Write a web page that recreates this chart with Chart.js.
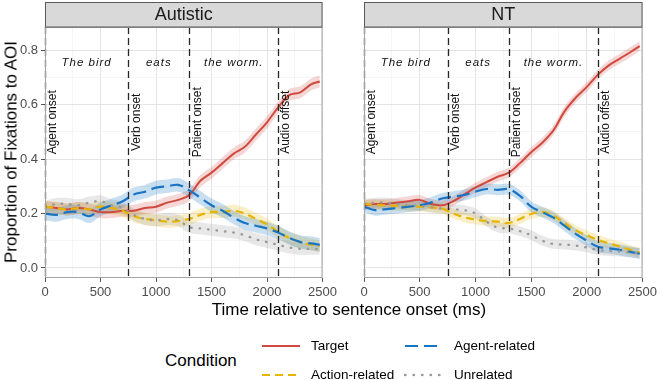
<!DOCTYPE html>
<html><head><meta charset="utf-8">
<script src="https://cdn.jsdelivr.net/npm/chart.js@4.4.1/dist/chart.umd.min.js"></script>
<style>
body{margin:0;background:#fff;font-family:"Liberation Sans",Arial,sans-serif;}
#wrap{position:relative;width:669px;height:380px;overflow:hidden;background:#fff;}
canvas{position:absolute;top:0;}
.t{position:absolute;white-space:nowrap;color:#000;line-height:1;}
</style></head><body><div id="wrap">
<canvas id="c1" width="340" height="300" style="left:0"></canvas>
<canvas id="c2" width="330" height="300" style="left:330px"></canvas>
<div class="t" style="font-size:17px;left:11px;top:152px;transform:translate(-50%,-50%) rotate(-90deg);">Proportion of Fixations to AOI</div>
<div class="t" style="font-size:17px;left:349px;top:309px;transform:translate(-50%,-50%)">Time relative to sentence onset (ms)</div>
<div class="t" style="font-size:17px;left:165px;top:360px;transform:translate(0,-50%)">Condition</div>
<svg id="legsvg" width="669" height="380" style="position:absolute;left:0;top:0"></svg>
<div id="legtext"></div>
</div>
<script>
// ---------------- data ----------------
const times = [0,100,200,300,400,500,600,700,800,900,1000,1100,1200,1300,1400,1500,1600,1700,1800,1900,2000,2100,2200,2300,2400,2475];
const panels = ["Autistic", "NT"];
const conditions = ["Target", "Action-related", "Agent-related", "Unrelated"];

// Autistic
const targetAut    = [0.225,0.22,0.215,0.22,0.215,0.205,0.205,0.21,0.21,0.22,0.225,0.24,0.25,0.268,0.32,0.35,0.385,0.42,0.445,0.49,0.535,0.59,0.635,0.645,0.675,0.685];
const actionAut    = [0.225,0.22,0.215,0.22,0.215,0.225,0.22,0.21,0.19,0.18,0.175,0.17,0.172,0.18,0.195,0.205,0.205,0.21,0.2,0.18,0.16,0.133,0.11,0.095,0.085,0.08];
const agentAut     = [0.20,0.195,0.205,0.205,0.19,0.215,0.23,0.245,0.27,0.28,0.295,0.30,0.305,0.285,0.258,0.23,0.21,0.185,0.165,0.155,0.145,0.13,0.11,0.095,0.09,0.085];
const unrelatedAut = [0.225,0.235,0.235,0.23,0.24,0.245,0.23,0.22,0.195,0.18,0.175,0.18,0.175,0.15,0.145,0.14,0.135,0.13,0.12,0.105,0.095,0.085,0.075,0.07,0.07,0.07];
// NT
const targetNT     = [0.23,0.235,0.235,0.24,0.245,0.25,0.235,0.23,0.245,0.27,0.295,0.315,0.335,0.35,0.385,0.425,0.46,0.505,0.575,0.625,0.665,0.71,0.745,0.77,0.795,0.815];
const actionNT     = [0.235,0.232,0.23,0.228,0.226,0.225,0.222,0.218,0.2,0.186,0.178,0.172,0.17,0.165,0.18,0.198,0.205,0.192,0.165,0.138,0.12,0.103,0.09,0.078,0.065,0.056];
const agentNT      = [0.225,0.212,0.216,0.22,0.225,0.23,0.24,0.255,0.262,0.268,0.28,0.29,0.287,0.289,0.265,0.225,0.205,0.185,0.155,0.125,0.1,0.078,0.072,0.066,0.058,0.052];
const unrelatedNT  = [0.235,0.24,0.24,0.235,0.23,0.228,0.222,0.218,0.215,0.212,0.2,0.17,0.148,0.145,0.135,0.12,0.1,0.088,0.086,0.082,0.075,0.066,0.062,0.06,0.056,0.054];
// ribbon half-widths (per condition, in order of `conditions`)
const ciAut = [0.022, 0.022, 0.025, 0.022];
const ciNT  = [0.018, 0.018, 0.02, 0.018];

// x/y tick labels
const xTicks = [0,500,1000,1500,2000,2500];
const yTicks = [0.0,0.2,0.4,0.6,0.8];
// sentence annotations
const eventTimes  = [0,750,1300,2100];
const eventLabels = ["Agent onset","Verb onset","Patient onset","Audio offset"];
const phrases     = ["The bird","eats","the worm."];
const phraseTimes = [375,1025,1700];

// ---------------- styles ----------------
const colors = ["#d04a3f", "#e6b500", "#1a74c4", "#9a9a9a"];
const fills  = ["rgba(208,74,63,0.22)", "rgba(230,181,0,0.22)", "rgba(26,116,196,0.24)", "rgba(150,150,150,0.22)"];
const dashes = [[], [8,5], [13,6], [0.5,8]];
const widths = [2, 2.2, 2.2, 2.4];
const caps   = ["butt","butt","butt","round"];
const FONT = '"Liberation Sans", Arial, sans-serif';

const decor = {
  id: 'decor',
  afterDatasetsDraw(chart, args, opts) {
    const {ctx, chartArea: a, scales: {x, y}} = chart;
    ctx.save();
    ctx.beginPath(); ctx.rect(a.left - 1, a.top, a.right - a.left + 2, a.bottom - a.top); ctx.clip();
    ctx.strokeStyle = '#262626'; ctx.lineWidth = 1.3; ctx.setLineDash([7, 4]);
    eventTimes.forEach(t => {
      const px = Math.round(x.getPixelForValue(t)) + 0.5;
      ctx.beginPath(); ctx.moveTo(px, a.top); ctx.lineTo(px, a.bottom); ctx.stroke();
    });
    ctx.setLineDash([]);
    ctx.fillStyle = '#111'; ctx.font = '12px ' + FONT; ctx.textAlign = 'center'; ctx.textBaseline = 'middle';
    eventTimes.forEach((t, i) => {
      ctx.save();
      ctx.translate(x.getPixelForValue(t) + 8, y.getPixelForValue(0.535));
      ctx.rotate(-Math.PI / 2);
      ctx.fillText(eventLabels[i], 0, 0);
      ctx.restore();
    });
    ctx.font = 'italic 11.5px ' + FONT;
    try { ctx.letterSpacing = '1px'; } catch (e) {}
    phrases.forEach((p, i) => ctx.fillText(p, x.getPixelForValue(phraseTimes[i]), y.getPixelForValue(0.752)));
    ctx.restore();
  },
  afterDraw(chart, args, opts) {
    const {ctx, chartArea: a} = chart;
    ctx.save();
    ctx.strokeStyle = '#a3a3a3'; ctx.lineWidth = 1;
    ctx.strokeRect(a.left + 0.5, a.top + 0.5, a.right - a.left - 1, a.bottom - a.top - 1);
    ctx.fillStyle = '#d9d9d9';
    ctx.fillRect(a.left, 2, a.right - a.left, a.top - 2);
    ctx.strokeStyle = '#5a5a5a';
    ctx.strokeRect(a.left + 0.5, 2.5, a.right - a.left - 1, a.top - 2.5);
    ctx.fillStyle = '#1a1a1a'; ctx.font = '18px ' + FONT; ctx.textAlign = 'center'; ctx.textBaseline = 'middle';
    ctx.fillText(opts.title, (a.left + a.right) / 2, (2 + a.top) / 2 + 1);
    ctx.restore();
  }
};

function pts(vals, off) { return times.map((t, i) => ({x: t, y: vals[i] + off})); }

function makeChart(id, title, series, ci, showY, yWidth) {
  const datasets = [];
  series.forEach((vals, k) => {
    datasets.push({ data: pts(vals, ci[k]), borderWidth: 0, pointRadius: 0, fill: '+1', backgroundColor: fills[k], tension: 0.35, order: 20 + (4 - k) });
    datasets.push({ data: pts(vals, -ci[k]), borderWidth: 0, pointRadius: 0, fill: false, tension: 0.35, order: 20 + (4 - k) });
  });
  series.forEach((vals, k) => {
    datasets.push({ label: conditions[k], data: pts(vals, 0), borderColor: colors[k], borderWidth: widths[k], borderDash: dashes[k], borderCapStyle: caps[k], pointRadius: 0, fill: false, tension: 0.35, order: 4 - k });
  });
  return new Chart(document.getElementById(id), {
    type: 'line',
    data: { datasets },
    plugins: [decor],
    options: {
      responsive: false, animation: false, devicePixelRatio: 1,
      layout: { padding: { top: 27, right: 7, left: 0, bottom: 0 } },
      plugins: { legend: { display: false }, tooltip: { enabled: false }, decor: { title } },
      scales: {
        x: {
          type: 'linear', min: 0, max: 2500,
          afterBuildTicks: s => { const tk = []; for (let v = 0; v <= 2500; v += 250) tk.push({value: v}); s.ticks = tk; },
          afterFit: s => { s.height = 22; },
          border: { display: false },
          grid: {
            color: c => (c.tick && xTicks.includes(c.tick.value)) ? '#e4e4e4' : '#f1f1f1',
            lineWidth: c => (c.tick && xTicks.includes(c.tick.value)) ? 1 : 0.7,
            tickColor: c => (c.tick && xTicks.includes(c.tick.value)) ? '#555' : 'rgba(0,0,0,0)',
            tickLength: 4, drawTicks: true
          },
          ticks: {
            autoSkip: false, maxRotation: 0, padding: 3, color: '#4d4d4d', font: { family: FONT, size: 13 },
            callback: v => xTicks.includes(v) ? String(v) : ''
          }
        },
        y: {
          type: 'linear', min: -0.037, max: 0.885,
          afterBuildTicks: s => { s.ticks = [0, 0.1, 0.2, 0.3, 0.4, 0.5, 0.6, 0.7, 0.8].map(v => ({value: v})); },
          afterFit: s => { s.width = yWidth; },
          border: { display: false },
          grid: {
            color: c => (c.tick && yTicks.includes(c.tick.value)) ? '#e4e4e4' : '#f1f1f1',
            lineWidth: c => (c.tick && yTicks.includes(c.tick.value)) ? 1 : 0.7,
            tickColor: c => (c.tick && yTicks.includes(c.tick.value)) ? '#555' : 'rgba(0,0,0,0)',
            tickLength: 4, drawTicks: showY
          },
          ticks: {
            display: showY, autoSkip: false, padding: 3, color: '#4d4d4d', font: { family: FONT, size: 13 },
            callback: v => yTicks.includes(v) ? v.toFixed(1) : ''
          }
        }
      }
    }
  });
}

makeChart('c1', panels[0], [targetAut, actionAut, agentAut, unrelatedAut], ciAut, true, 45);
makeChart('c2', panels[1], [targetNT, actionNT, agentNT, unrelatedNT], ciNT, false, 34);

// ---------------- legend (Target, Agent-related / Action-related, Unrelated) ----------------
const legendOrder = [0, 2, 1, 3];
const svg = document.getElementById('legsvg');
const lt = document.getElementById('legtext');
legendOrder.forEach((k, i) => {
  const col = i % 2, row = Math.floor(i / 2);
  const x0 = col === 0 ? 262 : 405, y0 = row === 0 ? 346 : 375;
  const ln = document.createElementNS('http://www.w3.org/2000/svg', 'line');
  ln.setAttribute('x1', x0); ln.setAttribute('x2', x0 + 38);
  ln.setAttribute('y1', y0); ln.setAttribute('y2', y0);
  ln.setAttribute('stroke', colors[k]); ln.setAttribute('stroke-width', widths[k]);
  ln.setAttribute('stroke-linecap', caps[k]);
  if (dashes[k].length) ln.setAttribute('stroke-dasharray', dashes[k].join(' '));
  svg.appendChild(ln);
  const d = document.createElement('div');
  d.className = 't'; d.textContent = conditions[k];
  d.style.cssText = 'font-size:13.5px;left:' + (x0 + 49) + 'px;top:' + y0 + 'px;transform:translate(0,-50%);';
  lt.appendChild(d);
});
</script>
</body></html>
